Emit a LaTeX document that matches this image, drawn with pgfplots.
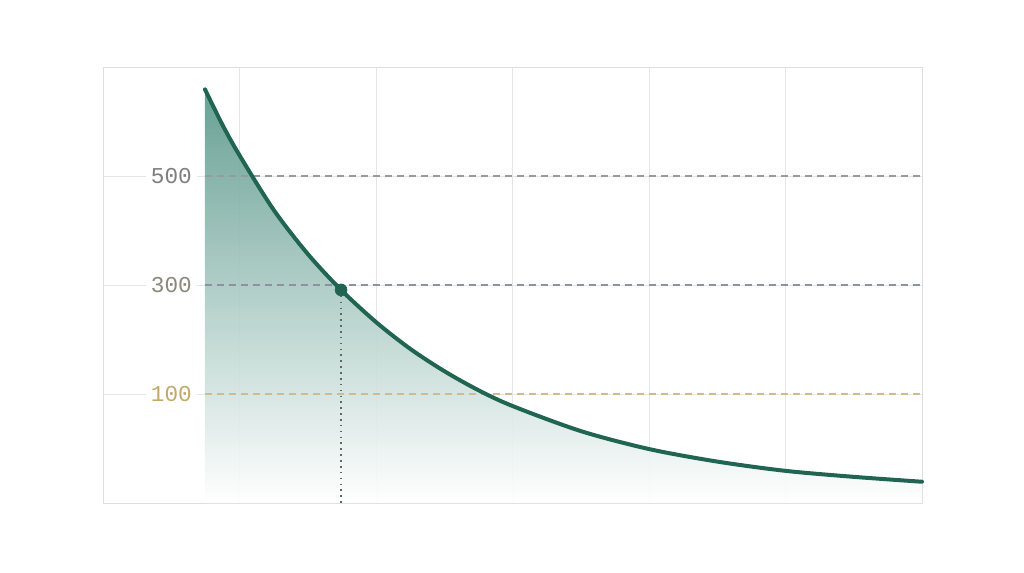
\documentclass[border=0pt]{standalone}
\usepackage{fontspec}
\setmainfont{Liberation Sans}
\setmonofont{Liberation Mono}
\usepackage{pgfplots}
\pgfplotsset{compat=1.18}

\definecolor{curvegreen}{HTML}{1F6552}
\definecolor{fillteal}{HTML}{5C998C}
\definecolor{fillmid}{HTML}{A3C9C0}
\definecolor{gridgray}{HTML}{E6E6E6}
\definecolor{framegray}{HTML}{DEDEDE}
\definecolor{c500}{HTML}{7F7F7F}
\definecolor{c300}{HTML}{8A8A7C}
\definecolor{c100}{HTML}{C2A86A}
\definecolor{d500}{HTML}{9A9A9A}
\definecolor{d300}{HTML}{8C93A0}
\definecolor{d100}{HTML}{CDBD8E}
\definecolor{dotgray}{HTML}{5A6A66}

\begin{document}
\begin{tikzpicture}
  \useasboundingbox (0,0) rectangle (768pt,429pt);
  \begin{axis}[
    at={(77.25pt,51.75pt)}, anchor=south west,
    scale only axis,
    width=614.25pt, height=327pt,
    xmin=0, xmax=6, ymin=-100, ymax=700,
    xtick={1,2,3,4,5}, xticklabels={},
    ytick={100,300,500},
    yticklabels={\textcolor{c100}{100},\textcolor{c300}{300},\textcolor{c500}{500}},
    major tick length=0pt,
    grid=major,
    major grid style={draw=gridgray, line width=0.75pt},
    axis line style={draw=framegray, line width=0.75pt},
    yticklabel style={anchor=east, inner sep=4pt, xshift=70.75pt, fill=white,
      font=\fontsize{17}{18}\selectfont\ttfamily},
    clip=false,
  ]
    % shaded area under the curve
    \addplot[draw=none, top color=fillteal, middle color=fillmid, bottom color=white, fill opacity=0.92, smooth]
      coordinates {(0.747,659) (0.875,594) (1,538) (1.25,438) (1.5,357) (1.744,291)
        (2,232) (2.25,183) (2.5,142) (2.75,107) (3,78) (3.5,32) (4,-1) (4.5,-24)
        (5,-41) (5.5,-52) (6,-61)}
      -- (axis cs:6,-100) -- (axis cs:0.747,-100) -- cycle;

    % reference levels
    \addplot[d500, dash pattern=on 5pt off 4pt, line width=1.1pt] coordinates {(0.747,500) (6,500)};
    \addplot[d300, dash pattern=on 5pt off 4pt, line width=1.1pt] coordinates {(0.747,300) (6,300)};
    \addplot[d100, dash pattern=on 5pt off 4pt, line width=1.1pt] coordinates {(0.747,100) (6,100)};

    % drop line from the marked point
    \addplot[dotgray, dash pattern=on 1.2pt off 3.2pt, line width=1.2pt] coordinates {(1.744,291) (1.744,-100)};

    % decay curve
    \addplot[curvegreen, line width=3pt, smooth, line cap=round]
      coordinates {(0.747,659) (0.875,594) (1,538) (1.25,438) (1.5,357) (1.744,291)
        (2,232) (2.25,183) (2.5,142) (2.75,107) (3,78) (3.5,32) (4,-1) (4.5,-24)
        (5,-41) (5.5,-52) (6,-61)};

    \addplot[only marks, mark=*, mark size=4.5pt, curvegreen] coordinates {(1.744,291)};
  \end{axis}
\end{tikzpicture}
\end{document}
